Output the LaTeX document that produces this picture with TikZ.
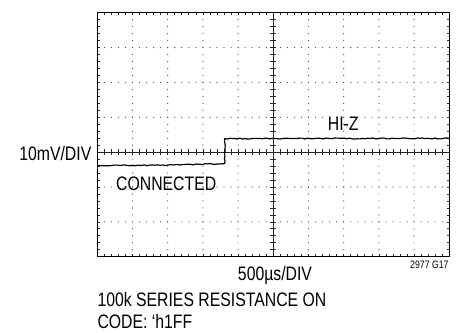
\documentclass[tikz,border=0pt]{standalone}
\usepackage{fontspec}
\setmainfont{Liberation Sans}[FakeStretch=0.81]
\usetikzlibrary{decorations.pathmorphing}
\def\scale{1}
% screen geometry (pt)
\def\xo{97.3}
\def\yo{12.7}
\def\dx{35.2}
\def\dy{34.86}

\begin{document}
\begin{tikzpicture}[x=1pt, y=-1pt, scale=\scale,
    lbl/.style={inner sep=0pt, text depth=0pt, font=\fontsize{19.5}{22}\selectfont},
    griddot/.style={fill=black!75},
    tick/.style={line width=0.7pt, black!85},
    trace/.style={line width=1.2pt, line join=round,
      decorate, decoration={random steps, segment length=2.5pt, amplitude=0.5pt}}]
  \useasboundingbox (0,0) rectangle (463,332);
  % \draw[gray] (0,0) grid[step=50] (463,332);

  % dotted graticule
  \foreach \i in {1,2,3,4,6,7,8,9}
    \foreach \k in {1,...,34}
      \fill[griddot] ({\xo+\i*\dx},{\yo+\k*\dy/5}) circle (0.6);
  \foreach \j in {1,2,3,5,6}
    \foreach \k in {1,...,49}
      \fill[griddot] ({\xo+\k*\dx/5},{\yo+\j*\dy}) circle (0.6);

  % centre axes with minor ticks
  \draw[tick] ({\xo+5*\dx},\yo) -- ({\xo+5*\dx},{\yo+7*\dy});
  \draw[tick] (\xo,{\yo+4*\dy}) -- ({\xo+10*\dx},{\yo+4*\dy});
  \foreach \k in {1,...,34}
    \draw[tick] ({\xo+5*\dx-3},{\yo+\k*\dy/5}) -- ++(6,0);
  \foreach \k in {1,...,49}
    \draw[tick] ({\xo+\k*\dx/5},{\yo+4*\dy-3}) -- ++(0,6);

  % border ticks
  \foreach \k in {1,...,49} {
    \draw[tick] ({\xo+\k*\dx/5},\yo) -- ++(0,2.5);
    \draw[tick] ({\xo+\k*\dx/5},{\yo+7*\dy}) -- ++(0,-2.5);
  }
  \foreach \k in {1,...,34} {
    \draw[tick] (\xo,{\yo+\k*\dy/5}) -- ++(2.5,0);
    \draw[tick] ({\xo+10*\dx},{\yo+\k*\dy/5}) -- ++(-2.5,0);
  }

  % frame
  \draw[line width=1.3pt] (\xo,\yo) rectangle ({\xo+10*\dx},{\yo+7*\dy});

  % trace
  \pgfmathsetseed{11}
  \draw[trace] (\xo,165.6) -- (160,165.2) -- (224.6,163.6) -- (224.8,138.6) -- (449,138.4);

  % labels
  \node[lbl, anchor=east] (vdiv) at (91.5,153.3) {10mV/DIV};
  \node[lbl, anchor=west] (conn) at (116,183.3) {CONNECTED};
  \node[lbl] (hiz) at (343.2,123.3) {HI-Z};
  \node[lbl] (hdiv) at (275,273.6) {500µs/DIV};
  \node[inner sep=0pt, text depth=0pt, font=\fontsize{10.8}{12}\selectfont, anchor=east] (fig) at (448.8,264.5) {2977 G17};
  \node[lbl, anchor=west] (cap1) at (\xo,299.3) {100k SERIES RESISTANCE ON};
  \node[lbl, anchor=west] (cap2) at (\xo,321.3) {CODE: ‘h1FF};
\end{tikzpicture}
\end{document}
